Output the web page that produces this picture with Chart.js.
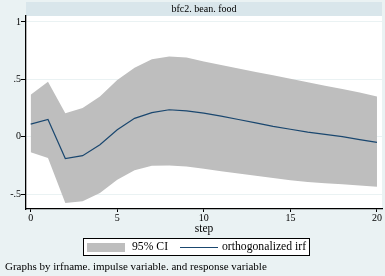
<!DOCTYPE html>
<html>
<head>
<meta charset="utf-8">
<script src="https://cdn.jsdelivr.net/npm/chart.js@4/dist/chart.umd.min.js"></script>
<style>
body{margin:0;background:#eaf2f3;font-family:"Liberation Serif",serif}
#wrap{position:relative;width:385px;height:276px;overflow:hidden}
#grafico{position:absolute;left:0;top:0}
#legenda{position:absolute;left:83px;top:238px;width:225px;height:16px;background:#fff;border:1px solid #000;font-size:11.7px;line-height:16px;color:#000}
#legenda .sw{position:absolute}
#nota{position:absolute;left:5px;top:260px;font-size:11px;color:#000;white-space:nowrap}
</style>
</head>
<body>
<div id="wrap">
<canvas id="grafico" width="385" height="276"></canvas>
<div id="legenda">
<span class="sw" style="left:3px;top:4px;width:38px;height:9px;background:#bebebe"></span>
<span class="sw" style="left:48px;top:0">95% CI</span>
<span class="sw" style="left:96px;top:8px;width:38px;height:1px;background:#1a476f"></span>
<span class="sw" style="left:138px;top:0">orthogonalized irf</span>
</div>
<div id="nota">Graphs by irfname. impulse variable. and response variable</div>
</div>
<script>
let titulo='bfc2. bean. food'
let passos=[0,1,2,3,4,5,6,7,8,9,10,11,12,13,14,15,16,17,18,19,20]
let irf=[0.11,0.15,-0.19,-0.165,-0.07,0.06,0.16,0.21,0.235,0.225,0.205,0.18,0.15,0.12,0.09,0.065,0.04,0.02,0,-0.025,-0.05]
let ciSup=[0.365,0.48,0.205,0.25,0.35,0.495,0.6,0.675,0.7,0.69,0.655,0.625,0.595,0.565,0.535,0.505,0.475,0.445,0.415,0.385,0.35]
let ciInf=[-0.136,-0.185,-0.577,-0.563,-0.49,-0.374,-0.293,-0.252,-0.25,-0.26,-0.28,-0.3,-0.32,-0.34,-0.36,-0.38,-0.395,-0.405,-0.415,-0.425,-0.437]
let ticksX=[0,5,10,15,20]
let ticksY=[-0.5,0,0.5,1]

function pontos(valores){
return passos.map((p,i)=>({x:p,y:valores[i]}))
}

let fundo={
id:'fundo',
beforeDraw(chart){
let c=chart.ctx
let a=chart.chartArea
c.save()
c.fillStyle='#eaf2f3'
c.fillRect(0,0,chart.width,chart.height)
c.fillStyle='#fff'
c.fillRect(a.left,a.top,a.right-a.left,a.bottom-a.top)
c.fillStyle='#d9e6eb'
c.fillRect(a.left,2,a.right-a.left,14)
c.fillStyle='#000'
c.font='10px "Liberation Serif"'
c.textAlign='center'
c.textBaseline='middle'
c.fillText(titulo,(a.left+a.right)/2,9.5)
c.restore()
}
}

let fonteTick={family:'"Liberation Serif"',size:10}

new Chart(document.getElementById('grafico'),{
type:'line',
data:{
datasets:[
{
label:'orthogonalized irf',
data:pontos(irf),
borderColor:'#1a476f',
borderWidth:1.2,
pointRadius:0,
fill:false
},
{
label:'95% CI',
data:pontos(ciSup),
borderWidth:0,
borderColor:'rgba(0,0,0,0)',
backgroundColor:'#bebebe',
pointRadius:0,
fill:'+1'
},
{
label:'inf',
data:pontos(ciInf),
borderWidth:0,
borderColor:'rgba(0,0,0,0)',
pointRadius:0,
fill:false
}
]
},
options:{
responsive:false,
animation:false,
devicePixelRatio:1,
layout:{padding:{left:0,top:16,right:3,bottom:37}},
plugins:{legend:{display:false},tooltip:{enabled:false}},
scales:{
x:{
type:'linear',
min:-0.27,
max:20.29,
afterBuildTicks(s){s.ticks=ticksX.map(v=>({value:v}))},
afterFit(s){s.height=30},
grid:{drawOnChartArea:false,tickLength:3,tickColor:'#000'},
border:{color:'#000',width:1.3},
ticks:{color:'#000',font:fonteTick,padding:0,maxRotation:0},
title:{display:true,text:'step',color:'#000',font:{family:'"Liberation Serif"',size:11.5},padding:{top:0,bottom:3}}
},
y:{
min:-0.63,
max:1.052,
afterBuildTicks(s){s.ticks=ticksY.map(v=>({value:v}))},
afterFit(s){s.width=26},
grid:{color:'#eaf2f3',tickLength:5,tickColor:'#000'},
border:{color:'#000',width:1.3},
ticks:{color:'#000',font:fonteTick,padding:0,
callback:v=>v===0?'0':String(v).replace('0.','.')}
}
}
},
plugins:[fundo]
})
</script>
</body>
</html>
